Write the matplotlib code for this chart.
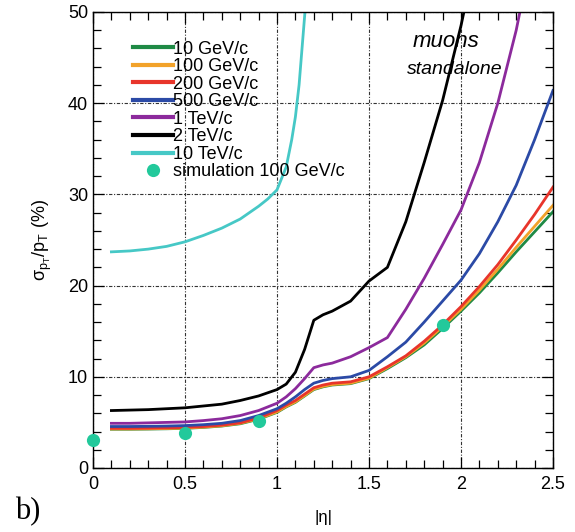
import matplotlib
matplotlib.use("Agg")
import matplotlib.pyplot as plt
from matplotlib.ticker import MultipleLocator

plt.rcParams['font.family'] = ['Liberation Sans', 'DejaVu Sans']
plt.rcParams['mathtext.fontset'] = 'custom'
plt.rcParams['mathtext.rm'] = 'Liberation Sans'
plt.rcParams['mathtext.it'] = 'Liberation Sans'

# ---- data ----
eta = [0.1, 0.2, 0.3, 0.4, 0.5, 0.6, 0.7, 0.8, 0.9, 1.0, 1.05, 1.1, 1.15, 1.2,
       1.25, 1.3, 1.4, 1.5, 1.6, 1.7, 1.8, 1.9, 2.0, 2.1, 2.2, 2.3, 2.4, 2.5]

res_10GeV = [4.25, 4.25, 4.27, 4.3, 4.35, 4.45, 4.6, 4.85, 5.35, 6.1, 6.7, 7.2, 7.9, 8.6,
             8.9, 9.1, 9.25, 9.8, 10.9, 12.1, 13.5, 15.3, 17.2, 19.2, 21.4, 23.7, 25.9, 28.1]
res_100GeV = [4.28, 4.28, 4.3, 4.33, 4.38, 4.48, 4.63, 4.9, 5.4, 6.15, 6.75, 7.25, 7.95, 8.65,
              8.95, 9.15, 9.3, 9.85, 11.0, 12.2, 13.7, 15.5, 17.4, 19.5, 21.8, 24.2, 26.5, 28.8]
res_200GeV = [4.35, 4.35, 4.37, 4.4, 4.45, 4.55, 4.7, 4.95, 5.5, 6.3, 6.9, 7.4, 8.1, 8.8,
              9.1, 9.3, 9.45, 10.0, 11.1, 12.3, 13.9, 15.7, 17.7, 19.9, 22.3, 25.0, 27.8, 30.8]
res_500GeV = [4.55, 4.55, 4.57, 4.6, 4.65, 4.75, 4.9, 5.2, 5.75, 6.5, 7.1, 7.8, 8.6, 9.3,
              9.6, 9.8, 10.0, 10.7, 12.2, 13.8, 16.0, 18.3, 20.6, 23.5, 27.0, 31.0, 36.0, 41.4]
res_1TeV = [4.9, 4.9, 4.95, 5.0, 5.05, 5.2, 5.4, 5.75, 6.3, 7.1, 7.8, 8.7, 9.8, 11.0,
            11.3, 11.5, 12.2, 13.2, 14.3, 17.4, 20.8, 24.5, 28.3, 33.5, 40.0, 48.0, 58.0, 70.0]
res_2TeV = [6.3, 6.35, 6.4, 6.5, 6.6, 6.8, 7.0, 7.4, 7.9, 8.6, 9.2, 10.5, 13.0, 16.2,
            16.8, 17.2, 18.3, 20.5, 22.0, 27.0, 33.5, 40.3, 48.5, 58.0, 70.0, 80.0, 90.0, 100.0]

eta_10TeV = [0.1, 0.2, 0.3, 0.4, 0.5, 0.6, 0.7, 0.8, 0.9, 0.95, 1.0, 1.05, 1.08, 1.1, 1.12, 1.14, 1.16]
res_10TeV = [23.7, 23.8, 24.0, 24.3, 24.8, 25.5, 26.3, 27.3, 28.7, 29.5, 30.5, 33.0, 36.0, 38.5, 42.0, 47.0, 52.0]

sim_eta = [0.0, 0.5, 0.9, 1.9]
sim_res = [3.05, 3.85, 5.15, 15.7]

labels = ["10 GeV/c", "100 GeV/c", "200 GeV/c", "500 GeV/c", "1 TeV/c", "2 TeV/c", "10 TeV/c"]
colors = ["#1f8a45", "#f2a22a", "#e8352b", "#2b4aa6", "#8c2a9c", "#000000", "#46c8c6"]

fig = plt.figure(figsize=(5.75, 5.32), dpi=100)
ax = fig.add_axes([93/575, 1-468/532, 460/575, 456/532])

series = [(eta, res_10GeV), (eta, res_100GeV), (eta, res_200GeV), (eta, res_500GeV),
          (eta, res_1TeV), (eta, res_2TeV), (eta_10TeV, res_10TeV)]
for (x, y), lab, c in zip(series, labels, colors):
    ax.plot(x, y, color=c, lw=2.0, label=lab)

ax.plot(sim_eta, sim_res, 'o', color="#22c99b", ms=9.5, mec='none',
        label="simulation 100 GeV/c", clip_on=False, zorder=5)

ax.set_xlim(0, 2.5)
ax.set_ylim(0, 50)
ax.xaxis.set_major_locator(MultipleLocator(0.5))
ax.xaxis.set_minor_locator(MultipleLocator(0.1))
ax.yaxis.set_major_locator(MultipleLocator(10))
ax.yaxis.set_minor_locator(MultipleLocator(2))
ax.set_xticks([0, 0.5, 1, 1.5, 2, 2.5])
ax.set_xticklabels(["0", "0.5", "1", "1.5", "2", "2.5"])
ax.tick_params(which='both', direction='in', top=True, right=True, labelsize=13, width=0.9)
ax.tick_params(which='major', length=8)
ax.tick_params(which='minor', length=6)
ax.tick_params(axis='x', pad=6)
ax.grid(True, which='major', color='#333333', lw=0.8, linestyle=(0, (3, 1.5, 1, 1.5)))
for s in ax.spines.values():
    s.set_linewidth(1.0)

ax.set_ylabel(r'$\mathregular{\sigma_{p_T}/p_T}$ (%)', fontsize=13, labelpad=10)
ax.set_xlabel('|η|', fontsize=12, labelpad=12)

leg = ax.legend(loc='upper left', bbox_to_anchor=(0.06, 0.965), frameon=False, fontsize=13,
                labelspacing=0.03, handlelength=2.2, handletextpad=0.0, borderpad=0.2)
for h in leg.get_lines():
    h.set_linewidth(3.0)

ax.text(0.695, 0.935, 'muons', transform=ax.transAxes, fontsize=16, style='italic', ha='left', va='center')
ax.text(0.682, 0.874, 'standalone', transform=ax.transAxes, fontsize=14, style='italic', ha='left', va='center')

fig.text(15/575, 1-512/532, 'b)', fontsize=22, family='Liberation Serif', ha='left', va='center')

fig.savefig('out.png', dpi=100)
